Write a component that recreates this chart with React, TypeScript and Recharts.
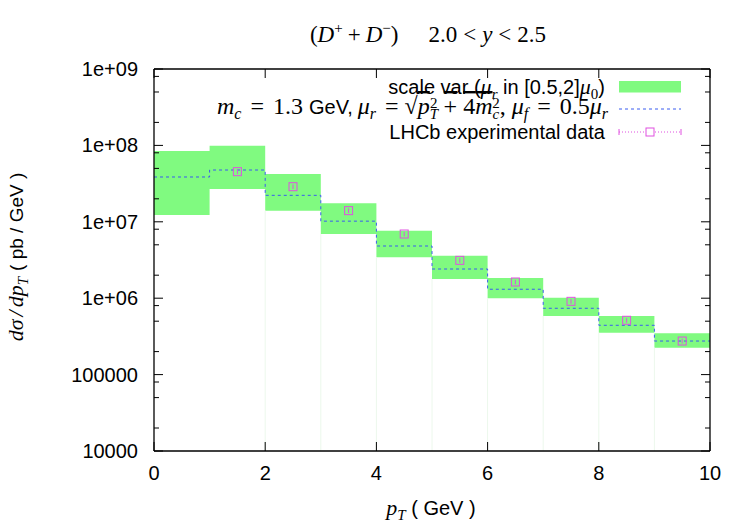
import React from 'react';
import {
  ComposedChart,
  Area,
  Line,
  Scatter,
  ErrorBar,
  XAxis,
  YAxis,
  ReferenceLine,
  Label,
} from 'recharts';

// bins in pT (GeV), left edges
const binEdges = [0, 1, 2, 3, 4, 5, 6, 7, 8, 9];
// scale variation band (pb/GeV)
const bandHigh = [8.45e7, 9.9e7, 4.23e7, 1.75e7, 7.66e6, 3.6e6, 1.84e6, 1.01e6, 5.85e5, 3.47e5];
const bandLow = [1.23e7, 2.69e7, 1.4e7, 6.9e6, 3.43e6, 1.78e6, 9.98e5, 5.85e5, 3.54e5, 2.25e5];
// central prediction
const central = [3.86e7, 4.76e7, 2.22e7, 1.02e7, 4.82e6, 2.41e6, 1.31e6, 7.38e5, 4.42e5, 2.75e5];
// LHCb data
const lhcbPt = [1.5, 2.5, 3.5, 4.5, 5.5, 6.5, 7.5, 8.5, 9.5];
const lhcbValue = [4.53e7, 2.88e7, 1.4e7, 6.92e6, 3.13e6, 1.63e6, 9.1e5, 5.14e5, 2.75e5];
const lhcbError = [3.2e6, 2.0e6, 1.0e6, 4.8e5, 2.2e5, 1.1e5, 6.4e4, 3.6e4, 1.9e4];

const xTicks = [0, 2, 4, 6, 8, 10];
const yMajor = [1e4, 1e5, 1e6, 1e7, 1e8, 1e9];
const yMinor = [2e4, 5e4, 8e4, 2e5, 5e5, 8e5, 2e6, 5e6, 8e6, 2e7, 5e7, 8e7, 2e8, 5e8, 8e8];
const yTicks = [...yMajor, ...yMinor].sort((a, b) => a - b);

const stepData = [
  ...binEdges.map((x, i) => ({ x, band: [bandLow[i], bandHigh[i]], central: central[i] })),
  { x: 10, band: [bandLow[9], bandHigh[9]], central: central[9] },
];
const lhcbData = lhcbPt.map((x, i) => ({ x, y: lhcbValue[i], err: lhcbError[i] }));

const SANS = 'Liberation Sans, Arial, sans-serif';
const SERIF = 'Liberation Serif, Times New Roman, serif';
const GREEN = '#80fa80';
const BLUE = '#3a5cf0';
const PINK = '#e050e0';

const isMajor = (v: number) => Math.abs(Math.log10(v) - Math.round(Math.log10(v))) < 1e-6;
const fmtY = (v: number) => (v >= 1e6 ? `1e+0${Math.round(Math.log10(v))}` : String(v));

const LeftTick = (props: any) => {
  const { x, y, payload } = props;
  const major = isMajor(payload.value);
  return (
    <g>
      <line x1={x} x2={x + (major ? 9 : 5)} y1={y} y2={y} stroke="#000" />
      {major && (
        <text x={x - 16} y={y + 7} textAnchor="end" fontFamily={SANS} fontSize={20} fill="#000">
          {fmtY(payload.value)}
        </text>
      )}
    </g>
  );
};

const RightTick = (props: any) => {
  const { x, y, payload } = props;
  const major = isMajor(payload.value);
  return <line x1={x} x2={x - (major ? 9 : 5)} y1={y} y2={y} stroke="#000" />;
};

const BottomTick = (props: any) => {
  const { x, y, payload } = props;
  return (
    <g>
      <line x1={x} x2={x} y1={y} y2={y - 9} stroke="#000" />
      <text x={x} y={y + 29} textAnchor="middle" fontFamily={SANS} fontSize={20} fill="#000">
        {payload.value}
      </text>
    </g>
  );
};

const TopTick = (props: any) => {
  const { x, y } = props;
  return <line x1={x} x2={x} y1={y} y2={y + 9} stroke="#000" />;
};

const Title = () => (
  <text x={428} y={42} textAnchor="middle" fontFamily={SERIF} fontSize={23} fill="#000">
    (<tspan fontStyle="italic">D</tspan>
    <tspan dy={-9} fontSize={15}>+</tspan>
    <tspan dy={9} dx={5}>+</tspan>
    <tspan dx={5} fontStyle="italic">D</tspan>
    <tspan dy={-9} fontSize={15}>−</tspan>
    <tspan dy={9}>)</tspan>
    <tspan dx={30}>2.0</tspan>
    <tspan dx={6}>&lt;</tspan>
    <tspan dx={6} fontStyle="italic">y</tspan>
    <tspan dx={6}>&lt;</tspan>
    <tspan dx={6}>2.5</tspan>
  </text>
);

const LegendBox = () => (
  <g>
    <text x={605} y={94} textAnchor="end" fontFamily={SANS} fontSize={20} fill="#000">
      scale var (<tspan fontFamily={SERIF} fontStyle="italic" fontSize={22}>μ</tspan>
      <tspan dy={5} fontSize={15} fontFamily={SERIF} fontStyle="italic">r</tspan>
      <tspan dy={-5}> in [0.5,2]</tspan>
      <tspan fontFamily={SERIF} fontStyle="italic" fontSize={22}>μ</tspan>
      <tspan dy={5} fontSize={15} fontFamily={SERIF}>0</tspan>
      <tspan dy={-5}>)</tspan>
    </text>
    <text x={608} y={114} textAnchor="end" fontFamily={SERIF} fontSize={24} fill="#000">
      <tspan fontStyle="italic">m</tspan>
      <tspan dy={5} fontSize={16} fontStyle="italic">c</tspan>
      <tspan dy={-5} dx={9}>=</tspan>
      <tspan dx={9}>1.3</tspan>
      <tspan dx={6} fontFamily={SANS} fontSize={20}>GeV,</tspan>
      <tspan dx={5} fontStyle="italic">μ</tspan>
      <tspan dy={5} fontSize={16} fontStyle="italic">r</tspan>
      <tspan dy={-5} dx={9}>=</tspan>
      <tspan dx={6}>√</tspan>
      <tspan fontStyle="italic" style={{ textDecoration: 'overline' }}>p</tspan>
      <tspan dy={5} fontSize={15} fontStyle="italic">T</tspan>
      <tspan dy={-11} dx={-8} fontSize={15}>2</tspan>
      <tspan dy={6} dx={6} style={{ textDecoration: 'overline' }}>+</tspan>
      <tspan dx={6} style={{ textDecoration: 'overline' }}>4</tspan>
      <tspan fontStyle="italic" style={{ textDecoration: 'overline' }}>m</tspan>
      <tspan dy={5} fontSize={15} fontStyle="italic">c</tspan>
      <tspan dy={-11} dx={-7} fontSize={15}>2</tspan>
      <tspan dy={6}>,</tspan>
      <tspan dx={6} fontStyle="italic">μ</tspan>
      <tspan dy={5} fontSize={16} fontStyle="italic">f</tspan>
      <tspan dy={-5} dx={9}>=</tspan>
      <tspan dx={9}>0.5</tspan>
      <tspan fontStyle="italic">μ</tspan>
      <tspan dy={5} fontSize={16} fontStyle="italic">r</tspan>
    </text>
    <text x={605} y={139} textAnchor="end" fontFamily={SANS} fontSize={20} fill="#000">
      LHCb experimental data
    </text>
    <rect x={619} y={81} width={62} height={11.5} fill={GREEN} />
    <line x1={619} x2={681} y1={109} y2={109} stroke={BLUE} strokeDasharray="3 3" />
    <line x1={619} x2={681} y1={132} y2={132} stroke={PINK} strokeDasharray="1 2" />
    <line x1={619} x2={619} y1={129} y2={135} stroke={PINK} />
    <line x1={681} x2={681} y1={129} y2={135} stroke={PINK} />
    <rect x={646} y={128} width={8} height={8} fill="#fff" stroke={PINK} />
  </g>
);

const YTitle = () => (
  <text
    x={23}
    y={257}
    transform="rotate(-90 23 257)"
    textAnchor="middle"
    fontFamily={SERIF}
    fontSize={22}
    fill="#000"
  >
    <tspan fontStyle="italic">dσ</tspan>
    <tspan dx={3} fontStyle="italic">/</tspan>
    <tspan dx={3} fontStyle="italic">dp</tspan>
    <tspan dy={5} fontSize={15} fontStyle="italic">T</tspan>
    <tspan dy={-5} dx={6} fontFamily={SANS} fontSize={19}>( pb / GeV )</tspan>
  </text>
);

const XTitle = () => (
  <text x={431} y={515} textAnchor="middle" fontFamily={SANS} fontSize={20} fill="#000">
    <tspan fontFamily={SERIF} fontStyle="italic" fontSize={22}>p</tspan>
    <tspan dy={5} fontSize={15} fontFamily={SERIF} fontStyle="italic">T</tspan>
    <tspan dy={-5}> ( GeV )</tspan>
  </text>
);

const SquareDot = (props: any) => {
  const { cx, cy } = props;
  return <rect x={cx - 4} y={cy - 4} width={8} height={8} fill="none" stroke={PINK} />;
};

export default function App() {
  return (
    <div style={{ position: 'absolute', left: 0, top: 0, background: '#fff' }}>
      <ComposedChart
        width={750}
        height={525}
        data={stepData}
        margin={{ top: 68, right: 39, bottom: 0, left: 0 }}
      >
        <XAxis
          xAxisId="b"
          dataKey="x"
          type="number"
          domain={[0, 10]}
          ticks={xTicks}
          interval={0}
          allowDataOverflow
          height={74}
          tickSize={0}
          tickMargin={0}
          tickLine={false}
          tick={BottomTick}
          axisLine={{ stroke: '#000', strokeWidth: 1.3 }}
        >
          <Label content={XTitle} />
        </XAxis>
        <XAxis
          xAxisId="t"
          orientation="top"
          dataKey="x"
          type="number"
          domain={[0, 10]}
          ticks={xTicks}
          interval={0}
          allowDataOverflow
          height={1}
          tickSize={0}
          tickMargin={0}
          tickLine={false}
          tick={TopTick}
          axisLine={{ stroke: '#000', strokeWidth: 1.3 }}
        >
          <Label content={Title} />
        </XAxis>
        <YAxis
          yAxisId="l"
          type="number"
          scale="log"
          domain={[1e4, 1e9]}
          ticks={yTicks}
          interval={0}
          allowDataOverflow
          width={154}
          tickSize={0}
          tickMargin={0}
          tickLine={false}
          tick={LeftTick}
          axisLine={{ stroke: '#000', strokeWidth: 1.3 }}
        >
          <Label content={YTitle} />
        </YAxis>
        <YAxis
          yAxisId="r"
          orientation="right"
          type="number"
          scale="log"
          domain={[1e4, 1e9]}
          ticks={yTicks}
          interval={0}
          allowDataOverflow
          width={1}
          tickSize={0}
          tickMargin={0}
          tickLine={false}
          tick={RightTick}
          axisLine={{ stroke: '#000', strokeWidth: 1.3 }}
        >
          <Label content={LegendBox} />
        </YAxis>
        {binEdges.slice(2).map((x) => (
          <ReferenceLine
            key={x}
            xAxisId="b"
            yAxisId="l"
            segment={[
              { x, y: 1e4 },
              { x, y: bandLow[x] },
            ]}
            stroke="#ecf8ec"
          />
        ))}
        <Area
          xAxisId="b"
          yAxisId="l"
          dataKey="band"
          type="stepAfter"
          fill={GREEN}
          fillOpacity={1}
          stroke="none"
          isAnimationActive={false}
        />
        <Line
          xAxisId="b"
          yAxisId="l"
          dataKey="central"
          type="stepAfter"
          stroke={BLUE}
          strokeWidth={1}
          strokeDasharray="3 3"
          dot={false}
          isAnimationActive={false}
        />
        <Scatter
          xAxisId="b"
          yAxisId="l"
          data={lhcbData}
          dataKey="y"
          shape={SquareDot}
          isAnimationActive={false}
        >
          <ErrorBar dataKey="err" direction="y" width={0} stroke={PINK} strokeWidth={1} />
        </Scatter>
      </ComposedChart>
    </div>
  );
}
